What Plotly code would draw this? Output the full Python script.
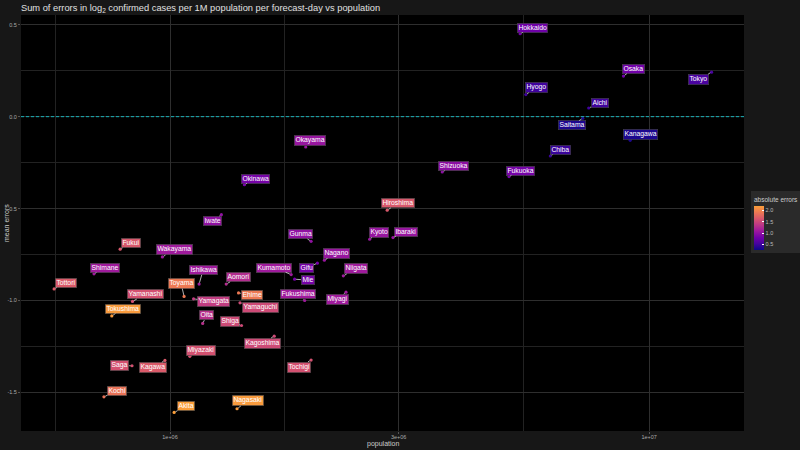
import math
import plotly.graph_objects as go
from plotly.colors import sample_colorscale

# ---- data ----
prefectures = ["Hokkaido", "Osaka", "Tokyo", "Hyogo", "Aichi", "Saitama", "Kanagawa", "Chiba",
               "Shizuoka", "Fukuoka", "Okinawa", "Iwate", "Okayama", "Hiroshima", "Kyoto", "Ibaraki",
               "Gunma", "Nagano", "Gifu", "Niigata", "Kumamoto", "Mie", "Fukushima", "Miyagi",
               "Fukui", "Wakayama", "Shimane", "Tottori", "Ishikawa", "Aomori", "Toyama", "Yamanashi",
               "Tokushima", "Yamagata", "Ehime", "Yamaguchi", "Oita", "Shiga", "Kagoshima", "Miyazaki",
               "Saga", "Kagawa", "Kochi", "Akita", "Nagasaki", "Tochigi"]
population = [5.38e6, 8.84e6, 13.5e6, 5.53e6, 7.48e6, 7.27e6, 9.13e6, 6.22e6,
              3.70e6, 5.10e6, 1.43e6, 1.28e6, 1.92e6, 2.84e6, 2.61e6, 2.92e6,
              1.97e6, 2.10e6, 2.03e6, 2.30e6, 1.79e6, 1.82e6, 1.91e6, 2.33e6,
              0.787e6, 0.964e6, 0.694e6, 0.573e6, 1.15e6, 1.31e6, 1.07e6, 0.835e6,
              0.756e6, 1.12e6, 1.39e6, 1.40e6, 1.17e6, 1.41e6, 1.65e6, 1.10e6,
              0.833e6, 0.976e6, 0.728e6, 1.02e6, 1.38e6, 1.97e6]
mean_errors = [0.451, 0.221, 0.242, 0.120, 0.047, -0.009, -0.129, -0.214,
               -0.301, -0.326, -0.370, -0.533, -0.165, -0.509, -0.667, -0.658,
               -0.678, -0.781, -0.797, -0.866, -0.859, -0.884, -1.000, -0.955,
               -0.721, -0.763, -0.855, -0.937, -0.911, -0.911, -0.978, -1.005,
               -1.084, -0.991, -0.959, -1.013, -1.125, -1.136, -1.194, -1.304,
               -1.355, -1.326, -1.524, -1.609, -1.589, -1.324]
abs_errors = [0.79, 0.81, 0.56, 0.51, 0.51, 0.34, 0.34, 0.48,
              0.98, 0.84, 0.84, 1.01, 1.06, 1.65, 1.06, 1.06,
              1.01, 1.06, 0.84, 1.12, 1.12, 0.84, 1.12, 1.12,
              1.65, 1.12, 1.12, 1.67, 1.12, 1.28, 1.92, 1.59,
              2.17, 1.42, 1.92, 1.53, 1.31, 1.53, 1.53, 1.59,
              1.59, 1.67, 1.87, 2.20, 2.17, 1.59]

x_ticks = [1e6, 3e6, 1e7]
x_ticktext = ["1e+06", "3e+06", "1e+07"]
y_ticks = [-1.5, -1.0, -0.5, 0.0, 0.5]
y_ticktext = ["-1.5", "-1.0", "-0.5", "0.0", "0.5"]
cbar_ticks = [0.5, 1.0, 1.5, 2.0]
cbar_ticktext = ["0.5", "1.0", "1.5", "2.0"]

# label offsets (pixels, label centre relative to point) - layout only
label_offsets = {
    "Hokkaido": (12, -6), "Osaka": (10, -7), "Tokyo": (-13, 7), "Hyogo": (11, -7),
    "Aichi": (11, -5), "Saitama": (-11, 7), "Kanagawa": (10, -6), "Chiba": (10, -6),
    "Shizuoka": (11, -6), "Fukuoka": (11, -6), "Okinawa": (11, -6), "Iwate": (-9, 6),
    "Okayama": (4, -6), "Hiroshima": (11, -7), "Kyoto": (9, -7), "Ibaraki": (13, -6),
    "Gunma": (-11, -7), "Nagano": (12, -7), "Gifu": (-11, 5), "Niigata": (13, -7),
    "Kumamoto": (-17, -7), "Mie": (13, 1), "Fukushima": (-7, -6), "Miyagi": (-9, 7),
    "Fukui": (11, -6), "Wakayama": (12, -7), "Shimane": (11, -6), "Tottori": (12, -6),
    "Ishikawa": (4, -14), "Aomori": (12, -7), "Toyama": (-3, -13), "Yamanashi": (13, -7),
    "Tokushima": (11, -7), "Yamagata": (20, 3), "Ehime": (13, 2), "Yamaguchi": (20, 5),
    "Oita": (4, -8), "Shiga": (-12, -4), "Kagoshima": (-12, 7), "Miyazaki": (11, -6),
    "Saga": (-12, 0), "Kagawa": (-12, 7), "Kochi": (13, -6), "Akita": (12, -6),
    "Nagasaki": (11, -8), "Tochigi": (-12, 7),
}

# ---- styling ----
plasma = ['#0d0887', '#46039f', '#7201a8', '#9c179e', '#bd3786', '#d8576b', '#ed7953', '#fb9f3a']
cscale = [[i / (len(plasma) - 1), c] for i, c in enumerate(plasma)]
cmin, cmax = 0.26, 2.2
FONT = "Liberation Sans, Arial, sans-serif"
L, R, T, B = 21, 744, 15, 431  # panel edges in pixels
PW, PH = R - L, B - T

fig = go.Figure()

fig.add_trace(go.Scatter(
    x=population, y=mean_errors, mode="markers",
    marker=dict(size=3.2, color=abs_errors, colorscale=cscale, cmin=cmin, cmax=cmax,
                showscale=True,
                colorbar=dict(
                    title=dict(text="absolute errors", side="top",
                               font=dict(size=6.5, color="#cccccc", family=FONT)),
                    thickness=10, lenmode="pixels", len=62,
                    x=(751 - L) / PW, xanchor="left", y=(B - 222) / PH, yanchor="middle",
                    tickvals=cbar_ticks, ticktext=cbar_ticktext,
                    tickfont=dict(size=5.5, color="#bbbbbb", family=FONT),
                    ticks="inside", tickcolor="white", ticklen=2,
                    bgcolor="#2a2a2a", outlinewidth=0, xpad=3, ypad=3,
                )),
    hoverinfo="skip", showlegend=False,
))

cols = sample_colorscale(cscale, [(v - cmin) / (cmax - cmin) for v in abs_errors])
for name, px, me, col in zip(prefectures, population, mean_errors, cols):
    ax, ay = label_offsets[name]
    fig.add_annotation(
        x=math.log10(px), y=me, xref="x", yref="y", text=name, showarrow=True,
        ax=ax, ay=ay, arrowhead=0, arrowwidth=0.8, arrowcolor="#dddddd", standoff=1.5,
        bgcolor=col, bordercolor="#444444", borderwidth=0.6, borderpad=0.8,
        font=dict(size=6.8, color="white", family=FONT),
    )

fig.add_hline(y=0, line=dict(color="#17b0b8", width=1, dash="3px,2px"))

# axis titles as paper annotations
fig.add_annotation(text="population", xref="paper", yref="paper", x=0.5, y=-(444 - B) / PH,
                   yanchor="middle", showarrow=False, font=dict(size=7, color="#cccccc", family=FONT))
fig.add_annotation(text="mean errors", xref="paper", yref="paper", x=-(L - 6) / PW, y=0.5,
                   xanchor="center", textangle=-90, showarrow=False,
                   font=dict(size=7, color="#cccccc", family=FONT))

fig.update_layout(
    width=800, height=450,
    margin=dict(l=L, r=800 - R, t=T, b=450 - B, autoexpand=False),
    paper_bgcolor="#171717", plot_bgcolor="black",
    font=dict(family=FONT, color="#cccccc"),
    title=dict(text="Sum of errors in log<sub>2</sub> confirmed cases per 1M population per forecast-day vs population",
               x=21 / 800, xanchor="left", y=1 - 7.5 / 450, yanchor="middle",
               font=dict(size=9.3, color="#e0e0e0", family=FONT)),
)
fig.update_xaxes(
    type="log", range=[5.689, 7.198], automargin=False,
    tickvals=x_ticks, ticktext=x_ticktext, ticklabelstandoff=-2,
    tickfont=dict(size=5.5, color="#aaaaaa"), ticks="outside", ticklen=2, tickcolor="#555555",
    showgrid=True, gridcolor="#2e2e2e", gridwidth=1, zeroline=False, showline=False,
    minor=dict(tickvals=[5.77e5, 1.732e6, 5.477e6], showgrid=True, gridcolor="#222222", gridwidth=0.6, ticks=""),
)
fig.update_yaxes(
    range=[-1.71, 0.553], automargin=False,
    tickvals=y_ticks, ticktext=y_ticktext,
    tickfont=dict(size=5.5, color="#aaaaaa"), ticks="outside", ticklen=2, tickcolor="#555555",
    showgrid=True, gridcolor="#2e2e2e", gridwidth=1, zeroline=False, showline=False,
    minor=dict(tickvals=[-1.25, -0.75, -0.25, 0.25], showgrid=True, gridcolor="#222222", gridwidth=0.6, ticks=""),
)

fig.write_html("out.html")
